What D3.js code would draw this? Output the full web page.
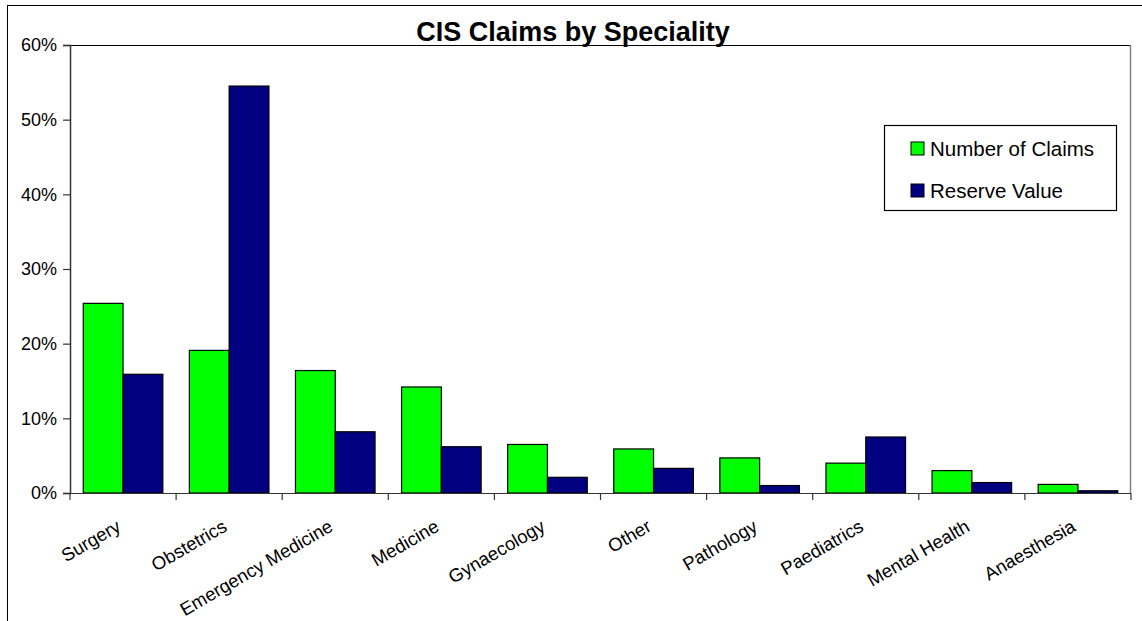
<!DOCTYPE html>
<html>
<head>
<meta charset="utf-8">
<script src="https://cdn.jsdelivr.net/npm/d3@7"></script>
<style>
  html, body { margin: 0; padding: 0; background: #fff; }
  svg { display: block; font-family: "Liberation Sans", Arial, sans-serif; }
</style>
</head>
<body>
<svg id="chart" width="1142" height="621"></svg>
<script>
// Share of claims and of reserve value, by medical speciality (percent)
const categories = ["Surgery", "Obstetrics", "Emergency Medicine", "Medicine", "Gynaecology",
                    "Other", "Pathology", "Paediatrics", "Mental Health", "Anaesthesia"];
const numberOfClaims = [25.4, 19.1, 16.4, 14.2, 6.5, 5.9, 4.7, 4.0, 3.0, 1.15];
const reserveValue   = [15.9, 54.5, 8.2, 6.2, 2.1, 3.3, 1.0, 7.5, 1.4, 0.3];
const seriesNames = ["Number of Claims", "Reserve Value"];
const seriesColors = ["#00ff00", "#000080"];
const yTicks = [0, 10, 20, 30, 40, 50, 60];

const svg = d3.select("#chart");
const plot = { left: 70, right: 1131, top: 45, bottom: 493 };

// outer chart frame
svg.append("rect")
  .attr("x", 7.5).attr("y", 5.5).attr("width", 1160).attr("height", 640)
  .attr("fill", "#fff").attr("stroke", "#000").attr("stroke-width", 1);

const x0 = d3.scaleBand().domain(categories).range([plot.left, plot.right]).padding(0);
const bw = x0.bandwidth();
const x1 = d3.scaleBand().domain(seriesNames).range([bw * 0.125, bw * 0.875]).padding(0);
const y = d3.scaleLinear().domain([0, 60]).range([plot.bottom, plot.top]);

// plot area border (top and right)
svg.append("line")
  .attr("x1", plot.left).attr("x2", plot.right)
  .attr("y1", plot.top + 0.5).attr("y2", plot.top + 0.5)
  .attr("stroke", "#000").attr("stroke-width", 1.2);
svg.append("line")
  .attr("x1", plot.right - 0.5).attr("x2", plot.right - 0.5)
  .attr("y1", plot.top).attr("y2", plot.bottom)
  .attr("stroke", "#808080").attr("stroke-width", 1.5);

// bars
const rows = categories.map((c, i) => ({ cat: c, vals: [numberOfClaims[i], reserveValue[i]] }));
const groups = svg.append("g").selectAll("g").data(rows).join("g")
  .attr("transform", d => `translate(${x0(d.cat)},0)`);
groups.selectAll("rect")
  .data(d => d.vals.map((v, j) => ({ v, s: seriesNames[j], c: seriesColors[j] })))
  .join("rect")
  .attr("x", d => x1(d.s))
  .attr("width", x1.bandwidth())
  .attr("y", d => y(d.v))
  .attr("height", d => y(0) - y(d.v))
  .attr("fill", d => d.c)
  .attr("stroke", "#000").attr("stroke-width", 1.2);

// y axis
const yAxis = svg.append("g")
  .attr("transform", `translate(${plot.left},0)`)
  .call(d3.axisLeft(y).tickValues(yTicks).tickFormat(d => d + "%").tickSizeOuter(0).tickSize(7).tickPadding(6));
yAxis.select(".domain").attr("stroke", "#333").attr("stroke-width", 1.5);
yAxis.selectAll(".tick line").attr("stroke", "#333").attr("stroke-width", 1.2);
yAxis.selectAll("text").attr("font-size", 18).attr("fill", "#000")
  .attr("font-family", "Liberation Sans, Arial, sans-serif");

// x axis: tick marks at category boundaries
const xAxisG = svg.append("g");
xAxisG.append("line")
  .attr("x1", plot.left).attr("x2", plot.right)
  .attr("y1", plot.bottom + 0.5).attr("y2", plot.bottom + 0.5)
  .attr("stroke", "#333").attr("stroke-width", 1.2);
const boundaries = categories.map(c => x0(c)).concat([x0(categories[categories.length - 1]) + bw]);
xAxisG.selectAll("line.tk").data(boundaries).join("line").attr("class", "tk")
  .attr("x1", d => d).attr("x2", d => d)
  .attr("y1", plot.bottom).attr("y2", plot.bottom + 7)
  .attr("stroke", "#333").attr("stroke-width", 1.2);
xAxisG.selectAll("text").data(categories).join("text")
  .attr("text-anchor", "end")
  .attr("font-size", 18.5)
  .attr("transform", d => `translate(${x0(d) + bw / 2 - 1},530) rotate(-30)`)
  .text(d => d);

// title
svg.append("text")
  .attr("x", 573).attr("y", 41)
  .attr("text-anchor", "middle")
  .attr("font-size", 27).attr("font-weight", "bold")
  .text("CIS Claims by Speciality");

// legend
const lg = svg.append("g");
lg.append("rect")
  .attr("x", 884.5).attr("y", 125.5).attr("width", 232).attr("height", 85)
  .attr("fill", "#fff").attr("stroke", "#000").attr("stroke-width", 1.2);
const items = lg.selectAll("g.item").data(seriesNames).join("g").attr("class", "item")
  .attr("transform", (d, i) => `translate(911,${142 + i * 42})`);
items.append("rect")
  .attr("width", 13).attr("height", 13)
  .attr("fill", (d, i) => seriesColors[i])
  .attr("stroke", "#000").attr("stroke-width", 1);
items.append("text")
  .attr("x", 19).attr("y", 13.5)
  .attr("font-size", 20.5)
  .text(d => d);
</script>
</body>
</html>
